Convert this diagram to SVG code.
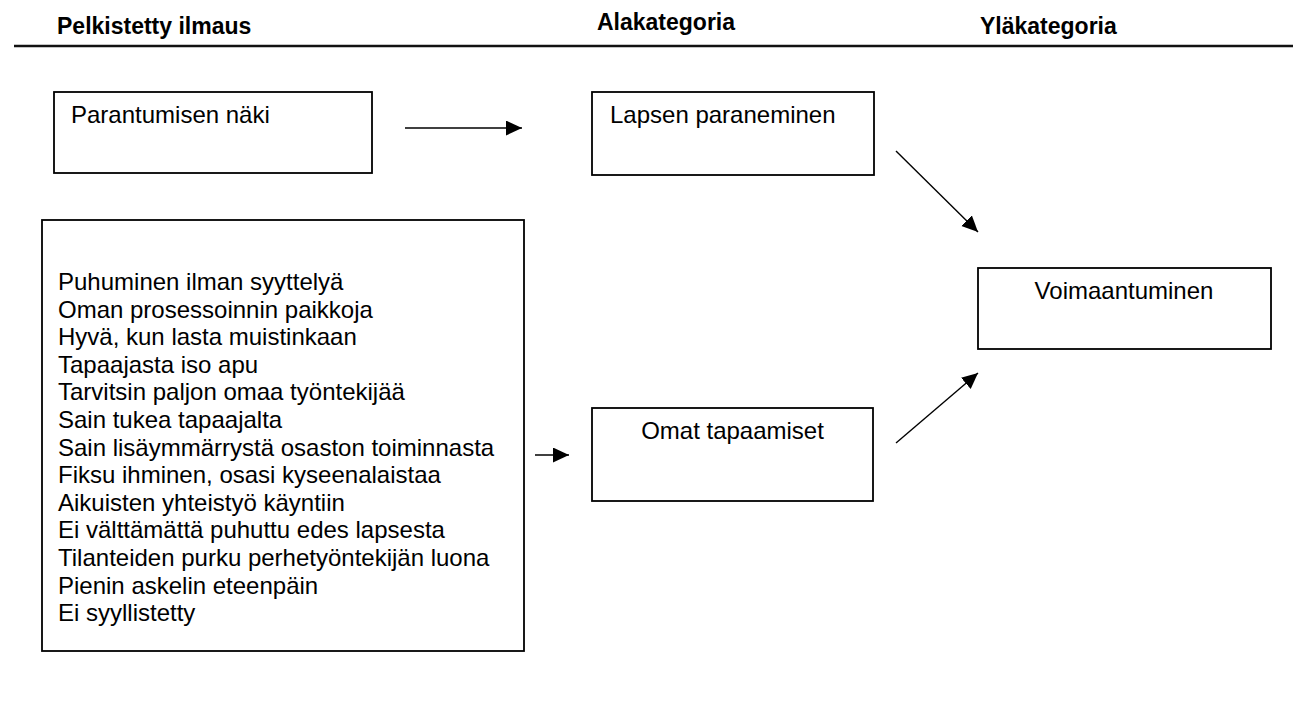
<svg xmlns="http://www.w3.org/2000/svg" width="1293" height="707" viewBox="0 0 1293 707">
  <style>
    .hdr { font-family: "Liberation Sans", Arial, sans-serif; font-size: 23px; font-weight: bold; fill: #000; }
    .lbl { font-family: "Liberation Sans", Arial, sans-serif; font-size: 24px; fill: #000; }
    .box { fill: #fff; stroke: #000; stroke-width: 1.8; }
    .conn { stroke: #000; stroke-width: 1.4; fill: none; marker-end: url(#head); }
  </style>
  <defs>
    <marker id="head" markerUnits="userSpaceOnUse" markerWidth="17" markerHeight="16" refX="16" refY="7.5" orient="auto">
      <path d="M0,0 L16,7.5 L0,15 Z" fill="#000"/>
    </marker>
  </defs>
  <rect width="1293" height="707" fill="#fff"/>

  <!-- column headings and rule -->
  <g id="headings">
    <text class="hdr" x="57" y="34">Pelkistetty ilmaus</text>
    <text class="hdr" x="597" y="30">Alakategoria</text>
    <text class="hdr" x="980" y="34">Yläkategoria</text>
    <line x1="14" y1="46" x2="1293" y2="46" stroke="#111" stroke-width="2.5"/>
  </g>

  <g id="node-parantumisen">
    <rect class="box" x="54" y="92" width="318" height="81"/>
    <text class="lbl" x="71" y="123">Parantumisen näki</text>
  </g>

  <g id="node-ilmaukset">
    <rect class="box" x="42" y="220" width="482" height="431"/>
    <text class="lbl">
      <tspan x="58" y="290">Puhuminen ilman syyttelyä</tspan>
      <tspan x="58" y="317.6">Oman prosessoinnin paikkoja</tspan>
      <tspan x="58" y="345.2">Hyvä, kun lasta muistinkaan</tspan>
      <tspan x="58" y="372.8">Tapaajasta iso apu</tspan>
      <tspan x="58" y="400.4">Tarvitsin paljon omaa työntekijää</tspan>
      <tspan x="58" y="428">Sain tukea tapaajalta</tspan>
      <tspan x="58" y="455.6">Sain lisäymmärrystä osaston toiminnasta</tspan>
      <tspan x="58" y="483.2">Fiksu ihminen, osasi kyseenalaistaa</tspan>
      <tspan x="58" y="510.8">Aikuisten yhteistyö käyntiin</tspan>
      <tspan x="58" y="538.4">Ei välttämättä puhuttu edes lapsesta</tspan>
      <tspan x="58" y="566">Tilanteiden purku perhetyöntekijän luona</tspan>
      <tspan x="58" y="593.6">Pienin askelin eteenpäin</tspan>
      <tspan x="58" y="621.2">Ei syyllistetty</tspan>
    </text>
  </g>

  <g id="node-lapsen">
    <rect class="box" x="592" y="92" width="282" height="83"/>
    <text class="lbl" x="610" y="123">Lapsen paraneminen</text>
  </g>

  <g id="node-omat">
    <rect class="box" x="592" y="408" width="281" height="93"/>
    <text class="lbl" x="732.5" y="439" text-anchor="middle">Omat tapaamiset</text>
  </g>

  <g id="node-voimaantuminen">
    <rect class="box" x="978" y="268" width="293" height="81"/>
    <text class="lbl" x="1124" y="299" text-anchor="middle">Voimaantuminen</text>
  </g>

  <!-- connectors -->
  <g id="connectors">
    <line class="conn" x1="405" y1="128" x2="522" y2="128"/>
    <line class="conn" x1="535" y1="455" x2="569" y2="455"/>
    <line class="conn" x1="896" y1="151" x2="978" y2="232"/>
    <line class="conn" x1="896" y1="443" x2="978" y2="373"/>
  </g>
</svg>
